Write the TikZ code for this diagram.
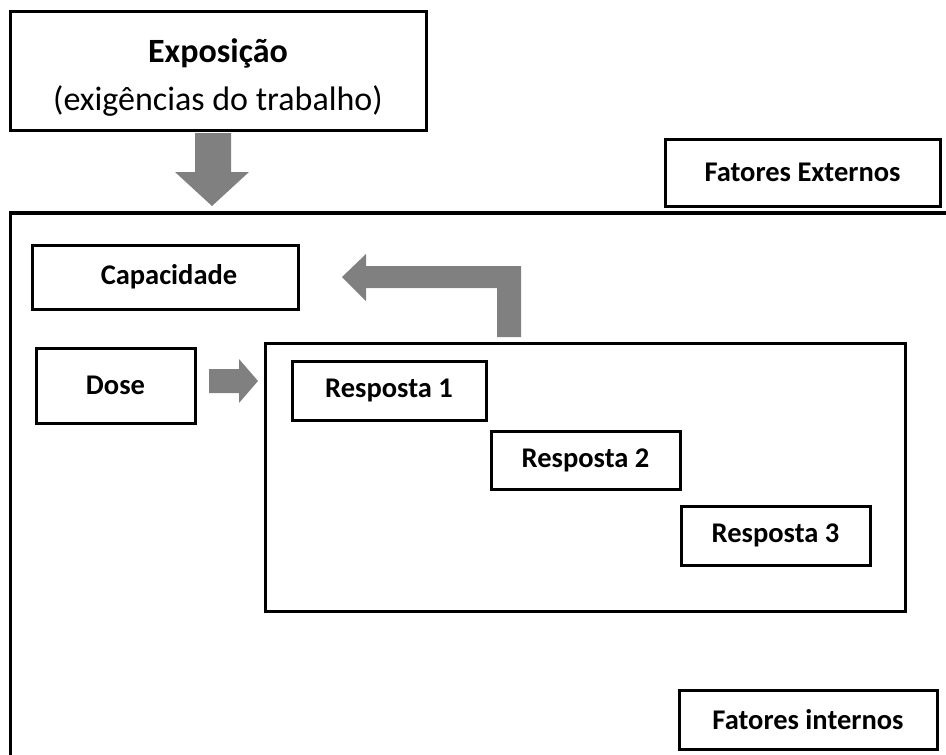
\documentclass[tikz,border=0pt]{standalone}
\usepackage{fontspec}
\setmainfont{Carlito}
\definecolor{blockgray}{HTML}{808080}
\begin{document}
\begin{tikzpicture}[x=1pt,y=-1pt,
  box/.style={draw=black, line width=3pt, fill=white, inner sep=0pt, align=center,
    font=\fontsize{28.5}{34}\selectfont\bfseries},
  frame/.style={draw=black, line width=3.5pt},
  blockarrow/.style={fill=blockgray, draw=none}]
\useasboundingbox (0,0) rectangle (946,755);
\begin{scope}
\clip (0,0) rectangle (946,755);

% outer frame (open to the right and bottom)
\draw[frame] (10.5,213) -- (960,213);
\draw[frame] (10.5,211.25) -- (10.5,770);

% exposure box
\node[box, minimum width=416pt, minimum height=119pt] (expo) at (218,70.5) {};
\node[align=center, inner sep=0pt, font=\fontsize{34}{48}\selectfont, yshift=-7pt]
  (expotext) at (expo.center) {\textbf{Exposição}\\(exigências do trabalho)};

% external / internal factors
\node[box, minimum width=275pt, minimum height=67pt] (fext) at (802.5,172.5) {Fatores Externos};
\node[box, minimum width=258pt, minimum height=59pt] (fint) at (808,719.5) {Fatores internos};

% capacity and dose
\node[box, minimum width=266pt, minimum height=64pt] (cap) at (165,277) {\hspace{8pt}Capacidade};
\node[box, minimum width=159pt, minimum height=75pt] (dose) at (115.5,385.5) {Dose};

% response frame and responses
\node[box, minimum width=640pt, minimum height=268pt] (resp) at (585,477) {};
\node[box, minimum width=194pt, minimum height=59pt] (r1) at (389,390.5) {Resposta 1};
\node[box, minimum width=189pt, minimum height=58pt] (r2) at (585.5,460) {Resposta 2};
\node[box, minimum width=189pt, minimum height=59pt] (r3) at (775.5,535.5) {Resposta 3};

\end{scope}

% block arrows
% exposure -> body
\fill[blockarrow] (195,133) -- (231,133) -- (231,172) -- (249,172) -- (212,206)
  -- (175,172) -- (195,172) -- cycle;
% dose -> responses
\fill[blockarrow] (209,369) -- (239,369) -- (239,359) -- (258,381)
  -- (239,403) -- (239,393) -- (209,393) -- cycle;
% responses -> capacity (feedback)
\fill[blockarrow] (521,337) -- (521,266) -- (366,266) -- (366,254) -- (342,277)
  -- (366,301) -- (366,288) -- (497,288) -- (497,337) -- cycle;
\end{tikzpicture}
\end{document}
